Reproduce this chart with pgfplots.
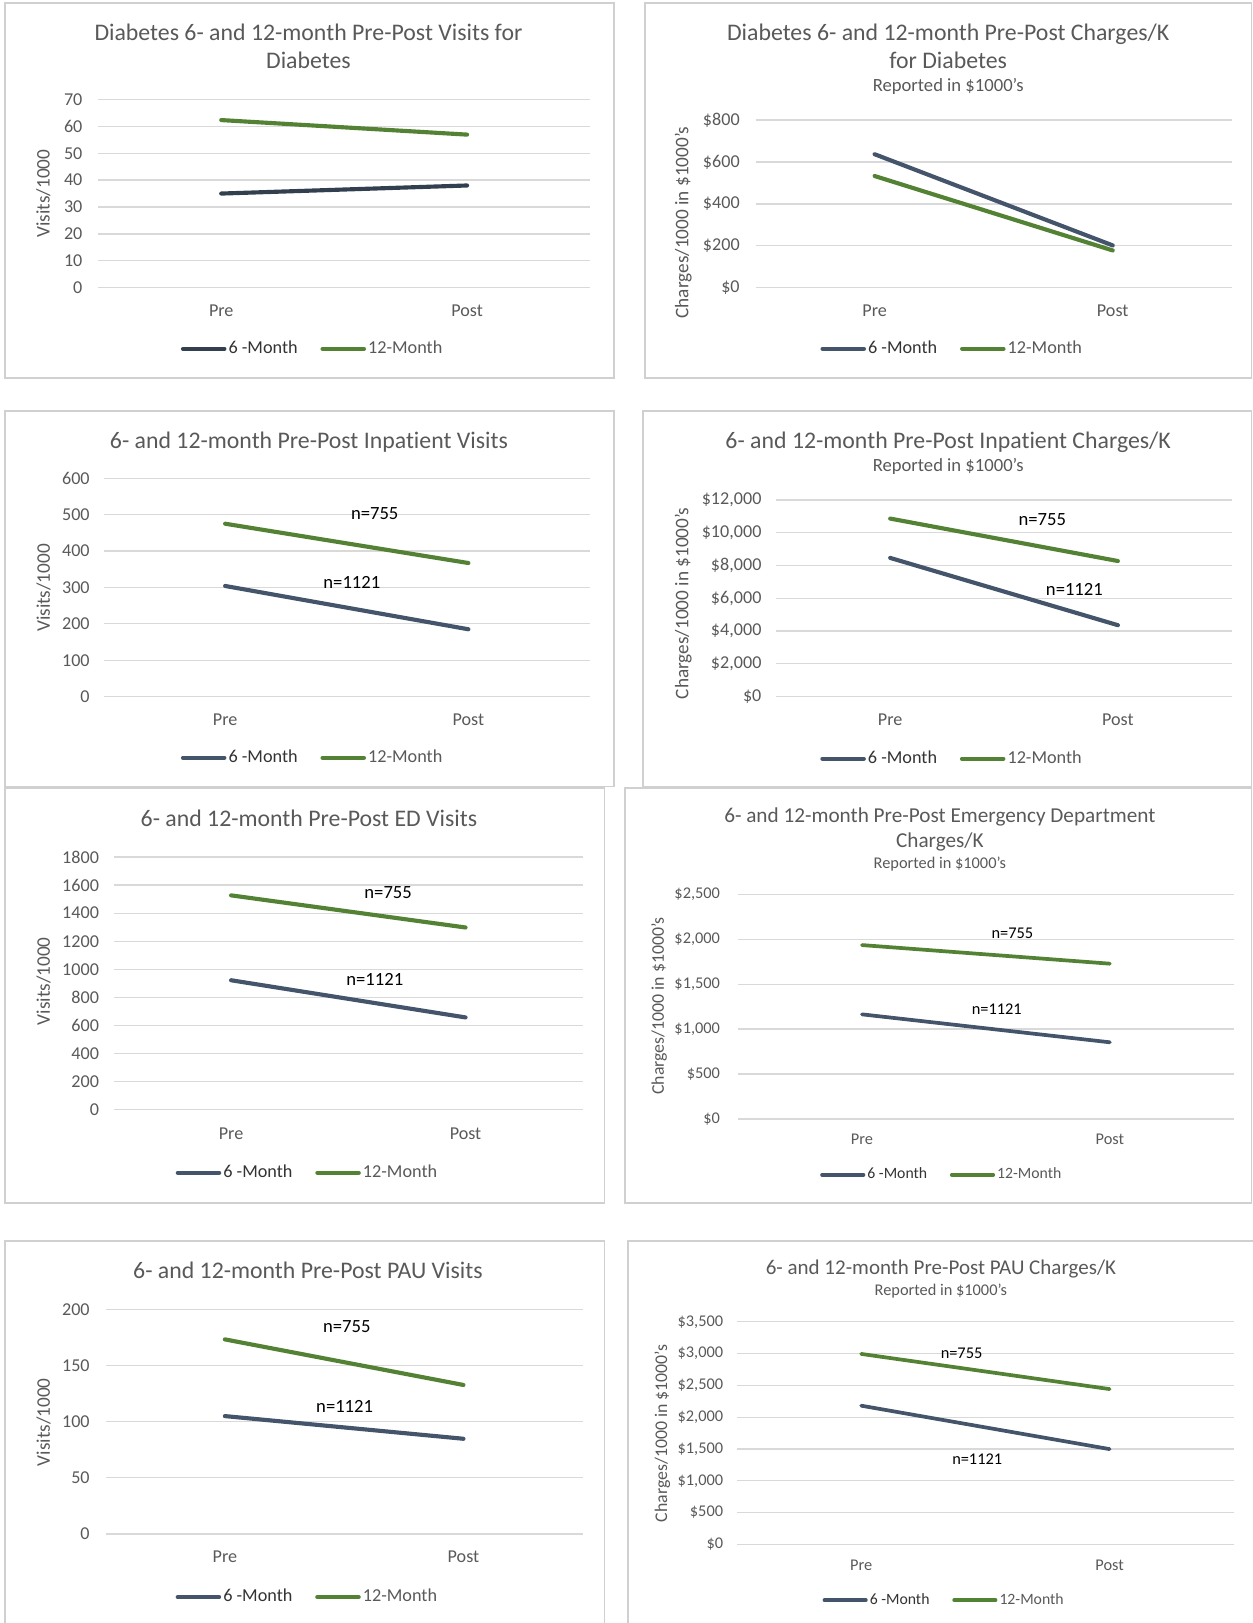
\documentclass[border=0pt]{standalone}
\usepackage{fontspec}
\setmainfont{Carlito}[Ligatures={NoCommon}]
\usepackage{pgfplots}
\pgfplotsset{compat=1.18}
\definecolor{sixm}{HTML}{44546A}
\definecolor{sixmdark}{HTML}{323F4F}
\definecolor{twelvem}{HTML}{548235}
\definecolor{gridc}{HTML}{D9D9D9}
\definecolor{textgray}{HTML}{595959}
\definecolor{textdark}{HTML}{333333}
\definecolor{framec}{HTML}{D0D0D0}
\newcommand{\fs}[1]{\fontsize{#1}{#1}\selectfont}
\newcommand{\sixlab}{\textcolor{textdark}{6 -Month}}
\tikzset{
  ann/.style={font=\fs{9}, text=black},
  anns/.style={font=\fs{7.9}, text=black},
}
\pgfplotsset{
  panel/.style={
    scale only axis, anchor=south west,
    xmin=-0.5, xmax=1.5, ymin=0,
    xtick={0,1}, xticklabels={Pre,Post},
    scaled y ticks=false,
    ymajorgrids, grid style={line width=0.6pt, gridc},
    axis line style={draw=none}, major tick length=0pt,
    tick label style={text=textgray, font=\fs{8.75}},
    xticklabel style={anchor=base, inner sep=0pt, yshift=-13.8pt},
    yticklabel style={anchor=east, inner sep=0pt},
    /pgf/number format/assume math mode=true,
    clip=false,
    legend columns=2,
    legend cell align=left,
    legend style={draw=none, fill=none, anchor=center, text=textgray, inner sep=0pt, font=\fs{8.8},
      nodes={inner sep=1pt},
      /tikz/every even column/.append style={column sep=10pt}},
    legend image code/.code={\draw[##1] (0pt,0pt) -- (20pt,0pt);},
    ylabel style={anchor=center, text=textgray, font=\fs{9.3}},
  },
  small/.style={
    tick label style={font=\fs{7.9}},
    xticklabel style={yshift=1.3pt},
    legend style={font=\fs{7.6}},
    ylabel style={font=\fs{8.6}},
  },
  s6/.style={color=sixm, line width=2pt, line cap=round},
  s12/.style={color=twelvem, line width=2pt, line cap=round},
}
\begin{document}
\begin{tikzpicture}
\useasboundingbox (0pt,0pt) rectangle (605pt,-784pt);
% frames
\begin{scope}[draw=framec, line width=0.8pt]
\draw (2.5pt,-1.5pt) rectangle (296.5pt,-182.5pt);
\draw (311.5pt,-1.5pt) rectangle (604.5pt,-182.5pt);
\draw (2.5pt,-198.5pt) rectangle (296.5pt,-380pt);
\draw (310.5pt,-198.5pt) rectangle (604.5pt,-380pt);
\draw (2.5pt,-380.5pt) rectangle (292pt,-581pt);
\draw (302pt,-380.5pt) rectangle (604.5pt,-581pt);
\draw (2.5pt,-599.5pt) rectangle (292pt,-790pt);
\draw (303.5pt,-599.5pt) rectangle (606pt,-790pt);
\end{scope}
% titles
\begin{scope}[text=textgray]
\node[anchor=base, font=\fs{11.5}] at (149pt,-19.7pt) {Diabetes 6- and 12-month Pre-Post Visits for};
\node[anchor=base, font=\fs{11.5}] at (149pt,-33.2pt) {Diabetes};
\node[anchor=base, font=\fs{11.5}] at (458pt,-19.7pt) {Diabetes 6- and 12-month Pre-Post Charges/K};
\node[anchor=base, font=\fs{11.5}] at (458pt,-33.2pt) {for Diabetes};
\node[anchor=base, font=\fs{9}] at (458pt,-44.4pt) {Reported in \$1000's};
\node[anchor=base, font=\fs{11.5}] at (149.25pt,-216.7pt) {6- and 12-month Pre-Post Inpatient Visits};
\node[anchor=base, font=\fs{11.5}] at (458pt,-216.7pt) {6- and 12-month Pre-Post Inpatient Charges/K};
\node[anchor=base, font=\fs{9}] at (458pt,-227.9pt) {Reported in \$1000's};
\node[anchor=base, font=\fs{11.5}] at (149.25pt,-399.2pt) {6- and 12-month Pre-Post ED Visits};
\node[anchor=base, font=\fs{10.25}] at (454pt,-397.3pt) {6- and 12-month Pre-Post Emergency Department};
\node[anchor=base, font=\fs{10.25}] at (454pt,-409.3pt) {Charges/K};
\node[anchor=base, font=\fs{7.9}] at (454pt,-419.55pt) {Reported in \$1000's};
\node[anchor=base, font=\fs{11.5}] at (148.75pt,-617.7pt) {6- and 12-month Pre-Post PAU Visits};
\node[anchor=base, font=\fs{10.15}] at (454.5pt,-615.75pt) {6- and 12-month Pre-Post PAU Charges/K};
\node[anchor=base, font=\fs{7.9}] at (454.5pt,-626pt) {Reported in \$1000's};
\end{scope}

% Panel 1
\begin{axis}[panel, at={(47.5pt,-139pt)}, width=237.5pt, height=91pt,
  ymax=70, ytick={0,10,20,30,40,50,60,70}, yticklabels={0,10,20,30,40,50,60,70},
  yticklabel style={xshift=-7.5pt},
  ylabel={Visits/1000}, ylabel style={at={(axis description cs:-0.1116,0.5)}},
  legend style={at={(0.436,-0.324)}}]
\addplot[s6, color=sixmdark] coordinates {(0,35) (1,38)}; \addlegendentry{\sixlab}
\addplot[s12] coordinates {(0,62.3) (1,56.9)}; \addlegendentry{12-Month}
\end{axis}

% Panel 2
\begin{axis}[panel, at={(365pt,-139pt)}, width=230pt, height=81pt,
  ymax=800, ytick={0,200,400,600,800}, yticklabels={\$0,\$200,\$400,\$600,\$800},
  yticklabel style={xshift=-7.5pt},
  ylabel={Charges/1000 in \$1000's}, ylabel style={at={(axis description cs:-0.152,0.389)}},
  legend style={at={(0.413,-0.364)}}]
\addplot[s6] coordinates {(0,637) (1,202)}; \addlegendentry{\sixlab}
\addplot[s12] coordinates {(0,533) (1,178)}; \addlegendentry{12-Month}
\end{axis}

% Panel 3
\begin{axis}[panel, at={(50pt,-336.5pt)}, width=235pt, height=105.5pt,
  ymax=600, ytick={0,100,200,300,400,500,600}, yticklabels={0,100,200,300,400,500,600},
  yticklabel style={xshift=-6.5pt},
  ylabel={Visits/1000}, ylabel style={at={(axis description cs:-0.123,0.498)}},
  legend style={at={(0.43,-0.28)}}]
\addplot[s6] coordinates {(0,304) (1,185)}; \addlegendentry{\sixlab}
\addplot[s12] coordinates {(0,475) (1,367)}; \addlegendentry{12-Month}
\node[ann] at (axis cs:0.615,503) {n=755};
\node[ann] at (axis cs:0.521,313) {n=1121};
\end{axis}

% Panel 4
\begin{axis}[panel, at={(375pt,-336.5pt)}, width=220pt, height=95pt,
  ymax=12000, ytick={0,2000,4000,6000,8000,10000,12000},
  yticklabels={\$0,{\$2,000},{\$4,000},{\$6,000},{\$8,000},{\$10,000},{\$12,000}},
  yticklabel style={xshift=-7pt},
  ylabel={Charges/1000 in \$1000's}, ylabel style={at={(axis description cs:-0.2045,0.474)}},
  legend style={at={(0.386,-0.316)}}]
\addplot[s6] coordinates {(0,8463) (1,4358)}; \addlegendentry{\sixlab}
\addplot[s12] coordinates {(0,10863) (1,8274)}; \addlegendentry{12-Month}
\node[ann] at (axis cs:0.668,10800) {n=755};
\node[ann] at (axis cs:0.809,6568) {n=1121};
\end{axis}

% Panel 5
\begin{axis}[panel, at={(55pt,-536pt)}, width=226.5pt, height=122pt,
  ymax=1800, ytick={0,200,400,600,800,1000,1200,1400,1600,1800},
  yticklabels={0,200,400,600,800,1000,1200,1400,1600,1800},
  yticklabel style={xshift=-7pt}, xticklabel style={yshift=-0.5pt},
  ylabel={Visits/1000}, ylabel style={at={(axis description cs:-0.150,0.508)}},
  legend style={at={(0.413,-0.25)}}]
\addplot[s6] coordinates {(0,922) (1,657)}; \addlegendentry{\sixlab}
\addplot[s12] coordinates {(0,1527) (1,1298)}; \addlegendentry{12-Month}
\node[ann] at (axis cs:0.67,1549) {n=755};
\node[ann] at (axis cs:0.613,930) {n=1121};
\end{axis}

% Panel 6
\begin{axis}[panel, small, at={(356.5pt,-540.5pt)}, width=239.5pt, height=108.5pt,
  ymax=2500, ytick={0,500,1000,1500,2000,2500},
  yticklabels={\$0,\$500,{\$1,000},{\$1,500},{\$2,000},{\$2,500}},
  yticklabel style={xshift=-8.5pt},
  ylabel={Charges/1000 in \$1000's}, ylabel style={at={(axis description cs:-0.159,0.502)}},
  legend style={at={(0.411,-0.249)}}]
\addplot[s6, line width=1.8pt] coordinates {(0,1164) (1,853)}; \addlegendentry{\sixlab}
\addplot[s12, line width=1.8pt] coordinates {(0,1935) (1,1728)}; \addlegendentry{12-Month}
\node[anns] at (axis cs:0.607,2062) {n=755};
\node[anns] at (axis cs:0.544,1221) {n=1121};
\end{axis}

% Panel 7
\begin{axis}[panel, at={(51pt,-741pt)}, width=230.5pt, height=108.5pt,
  ymax=200, ytick={0,50,100,150,200}, yticklabels={0,50,100,150,200},
  yticklabel style={xshift=-7.5pt},
  ylabel={Visits/1000}, ylabel style={at={(axis description cs:-0.130,0.498)}},
  legend style={at={(0.423,-0.281)}}]
\addplot[s6] coordinates {(0,105) (1,84.8)}; \addlegendentry{\sixlab}
\addplot[s12] coordinates {(0,173.3) (1,132.7)}; \addlegendentry{12-Month}
\node[ann] at (axis cs:0.511,184.3) {n=755};
\node[ann] at (axis cs:0.502,113.4) {n=1121};
\end{axis}

% Panel 8
\begin{axis}[panel, small, at={(356pt,-746pt)}, width=240pt, height=107.5pt,
  ymax=3500, ytick={0,500,1000,1500,2000,2500,3000,3500},
  yticklabels={\$0,\$500,{\$1,000},{\$1,500},{\$2,000},{\$2,500},{\$3,000},{\$3,500}},
  yticklabel style={xshift=-6.5pt},
  ylabel={Charges/1000 in \$1000's}, ylabel style={at={(axis description cs:-0.15,0.498)}},
  legend style={at={(0.417,-0.251)}}]
\addplot[s6, line width=1.8pt] coordinates {(0,2181) (1,1498)}; \addlegendentry{\sixlab}
\addplot[s12, line width=1.8pt] coordinates {(0,2995) (1,2442)}; \addlegendentry{12-Month}
\node[anns] at (axis cs:0.404,3012) {n=755};
\node[anns] at (axis cs:0.467,1335) {n=1121};
\end{axis}
\end{tikzpicture}
\end{document}
